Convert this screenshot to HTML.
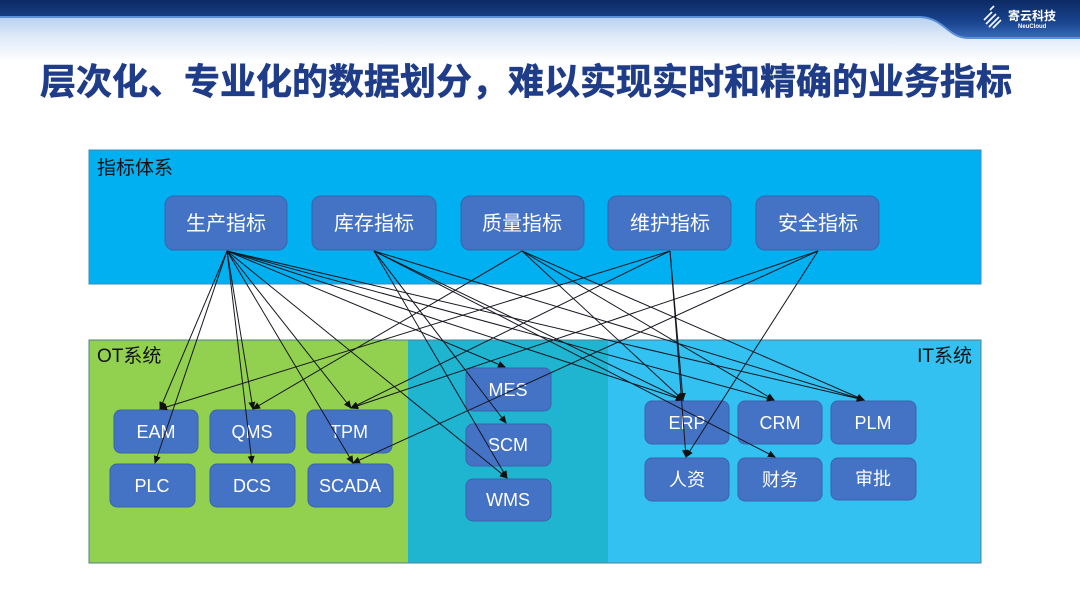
<!DOCTYPE html>
<html><head><meta charset="utf-8">
<style>
html,body{margin:0;padding:0;background:#fff;}
body{width:1080px;height:608px;overflow:hidden;position:relative;font-family:"Liberation Sans","Noto Sans CJK SC",sans-serif;}
svg{position:absolute;left:0;top:0;}
</style></head>
<body>
<svg width="1080" height="608" viewBox="0 0 1080 608" xmlns="http://www.w3.org/2000/svg">
<defs>
<linearGradient id="hb" x1="0" y1="0" x2="0" y2="1">
<stop offset="0" stop-color="#0c2a63"/><stop offset="0.6" stop-color="#1a4590"/><stop offset="1" stop-color="#3a6cbc"/>
</linearGradient>
<linearGradient id="haze" x1="0" y1="0" x2="0" y2="1">
<stop offset="0" stop-color="#aac6ec"/><stop offset="0.5" stop-color="#dde9f8"/><stop offset="1" stop-color="#ffffff"/>
</linearGradient>
<marker id="ar" markerWidth="8" markerHeight="8" refX="7" refY="3.5" orient="auto" markerUnits="userSpaceOnUse">
<path d="M0,0 L8,3.5 L0,7 Z" fill="#111"/>
</marker>
</defs>
<!-- header -->
<rect x="0" y="10" width="1080" height="52" fill="url(#haze)"/>
<path d="M0,0 H1080 V38 H968 C948,38 944,18 920,17 H0 Z" fill="url(#hb)"/>
<path d="M0,17 H920 C944,18 948,38 968,38 H1080" fill="none" stroke="#5b8fd6" stroke-width="2"/>
<g stroke="#fff" stroke-width="1.6">
<line x1="984" y1="20" x2="992" y2="12"/><line x1="986" y1="24" x2="996" y2="14"/>
<line x1="989" y1="27" x2="999" y2="17"/><line x1="993" y1="28" x2="1001" y2="20"/>
<line x1="990" y1="10" x2="994" y2="6"/>
</g>
<text x="1008" y="20" font-size="12" font-weight="bold" fill="#fff" font-family="Liberation Sans,'Noto Sans CJK SC',sans-serif">寄云科技</text>
<text x="1018" y="28" font-size="6" font-weight="bold" fill="#fff" font-family="Liberation Sans,sans-serif">NeuCloud</text>
<!-- title -->
<text x="40" y="94" font-size="36" font-weight="bold" fill="#1f3c88" stroke="#1f3c88" stroke-width="0.6" font-family="Liberation Sans,'Noto Sans CJK SC',sans-serif">层次化、专业化的数据划分，难以实现实时和精确的业务指标</text>

<!-- top panel -->
<rect x="89" y="150" width="892" height="134" fill="#00b0f0" stroke="#3a8dbd" stroke-width="1"/>
<text x="97" y="174" font-size="19" fill="#111" font-family="Liberation Sans,'Noto Sans CJK SC',sans-serif">指标体系</text>
<g fill="#4472c4" stroke="#3b63ad" stroke-width="1">
<rect x="165" y="196" width="122" height="54" rx="9"/>
<rect x="312" y="196" width="124" height="54" rx="9"/>
<rect x="461" y="196" width="123" height="54" rx="9"/>
<rect x="608" y="196" width="123" height="54" rx="9"/>
<rect x="756" y="196" width="123" height="54" rx="9"/>
</g>
<g font-size="20" fill="#fff" text-anchor="middle" font-family="Liberation Sans,'Noto Sans CJK SC',sans-serif">
<text x="226" y="230">生产指标</text>
<text x="374" y="230">库存指标</text>
<text x="522" y="230">质量指标</text>
<text x="670" y="230">维护指标</text>
<text x="818" y="230">安全指标</text>
</g>

<!-- bottom panels -->
<rect x="89" y="340" width="319" height="223" fill="#92d050"/>
<rect x="408" y="340" width="200" height="223" fill="#1fb5d0"/>
<rect x="608" y="340" width="373" height="223" fill="#33c1f1"/>
<rect x="89" y="340" width="892" height="223" fill="none" stroke="#4f7f90" stroke-width="1"/>
<text x="97" y="362" font-size="19" fill="#111" font-family="Liberation Sans,'Noto Sans CJK SC',sans-serif">OT系统</text>
<text x="972" y="362" font-size="19" fill="#111" text-anchor="end" font-family="Liberation Sans,'Noto Sans CJK SC',sans-serif">IT系统</text>
<g fill="#4472c4" stroke="#3b63ad" stroke-width="1">
<rect x="114" y="410" width="84" height="43" rx="7"/>
<rect x="210" y="410" width="85" height="43" rx="7"/>
<rect x="307" y="410" width="85" height="43" rx="7"/>
<rect x="110" y="464" width="85" height="43" rx="7"/>
<rect x="210" y="464" width="85" height="43" rx="7"/>
<rect x="308" y="464" width="85" height="43" rx="7"/>
<rect x="466" y="368" width="85" height="43" rx="7"/>
<rect x="466" y="424" width="85" height="42" rx="7"/>
<rect x="466" y="479" width="85" height="42" rx="7"/>
<rect x="645" y="401" width="84" height="43" rx="7"/>
<rect x="738" y="401" width="84" height="43" rx="7"/>
<rect x="831" y="401" width="85" height="43" rx="7"/>
<rect x="645" y="458" width="84" height="43" rx="7"/>
<rect x="738" y="458" width="84" height="43" rx="7"/>
<rect x="831" y="458" width="85" height="42" rx="7"/>
</g>
<g font-size="18" fill="#fff" text-anchor="middle" font-family="Liberation Sans,'Noto Sans CJK SC',sans-serif">
<text x="156" y="438">EAM</text>
<text x="252" y="438">QMS</text>
<text x="349" y="438">TPM</text>
<text x="152" y="492">PLC</text>
<text x="252" y="492">DCS</text>
<text x="350" y="492">SCADA</text>
<text x="508" y="396">MES</text>
<text x="508" y="451">SCM</text>
<text x="508" y="506">WMS</text>
<text x="687" y="429">ERP</text>
<text x="780" y="429">CRM</text>
<text x="873" y="429">PLM</text>
<text x="687" y="486">人资</text>
<text x="780" y="486">财务</text>
<text x="873" y="485">审批</text>
</g>

<!-- connectors -->
<g stroke="#161620" stroke-width="1" fill="none" marker-end="url(#ar)">
<!-- 生产 -->
<line x1="227" y1="251" x2="160" y2="409"/>
<line x1="227" y1="251" x2="155" y2="463"/>
<line x1="227" y1="251" x2="253" y2="409"/>
<line x1="227" y1="251" x2="252" y2="463"/>
<line x1="227" y1="251" x2="351" y2="408"/>
<line x1="227" y1="251" x2="353" y2="463"/>
<line x1="227" y1="251" x2="505" y2="367"/>
<line x1="227" y1="251" x2="507" y2="478"/>
<line x1="227" y1="251" x2="683" y2="400"/>
<line x1="227" y1="251" x2="774" y2="400"/>
<line x1="227" y1="251" x2="864" y2="400"/>
<!-- 库存 -->
<line x1="374" y1="251" x2="506" y2="423"/>
<line x1="374" y1="251" x2="507" y2="478"/>
<line x1="374" y1="251" x2="683" y2="400"/>
<line x1="374" y1="251" x2="775" y2="457"/>
<line x1="374" y1="251" x2="864" y2="400"/>
<!-- 质量 -->
<line x1="522" y1="251" x2="253" y2="409"/>
<line x1="522" y1="251" x2="683" y2="400"/>
<line x1="522" y1="251" x2="774" y2="400"/>
<line x1="522" y1="251" x2="864" y2="400"/>
<!-- 维护 -->
<line x1="670" y1="251" x2="160" y2="409"/>
<line x1="670" y1="251" x2="351" y2="408"/>
<line x1="670" y1="251" x2="683" y2="400"/>
<line x1="670" y1="251" x2="686" y2="457"/>
<!-- 安全 -->
<line x1="818" y1="251" x2="351" y2="408"/>
<line x1="818" y1="251" x2="353" y2="463"/>
<line x1="818" y1="251" x2="686" y2="457"/>
</g>
</svg>
</body></html>
